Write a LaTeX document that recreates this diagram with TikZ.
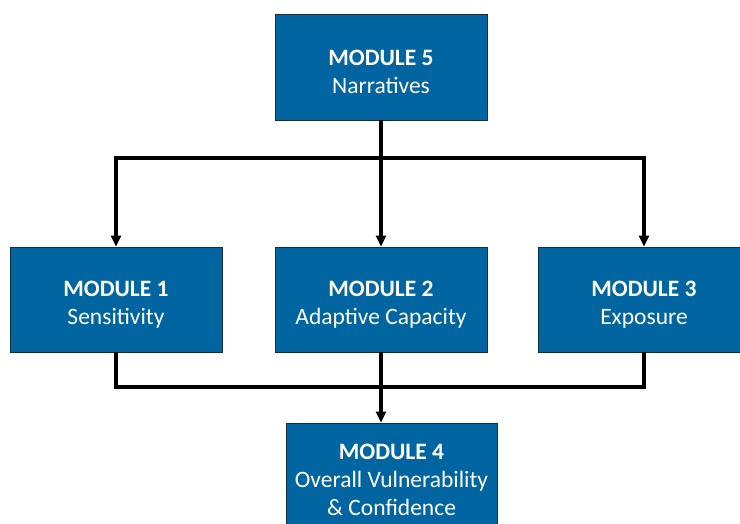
\documentclass[tikz,border=0pt]{standalone}
\usepackage{fontspec}
\setmainfont{Carlito}
\usetikzlibrary{arrows.meta,calc}
\definecolor{boxblue}{RGB}{0,101,160}
\definecolor{boxedge}{RGB}{20,45,65}
\begin{document}
\begin{tikzpicture}[x=1pt,y=-1pt,
  modbox/.style={draw=boxedge,line width=0.9pt,fill=boxblue,
    minimum width=212pt,minimum height=105pt,inner sep=0pt},
  modtext/.style={text=white,align=center,inner sep=0pt,
    font=\fontsize{23.5}{28}\selectfont},
  conn/.style={line width=3.1pt,draw=black},
  arr/.style={conn,-{Triangle[width=10pt,length=11pt]}}]
\clip (0,0) rectangle (740,523);
\fill[white] (0,0) rectangle (740,523);
\node[modbox,minimum height=106pt] (m5) at (381,67) {};
\node[modbox] (m1) at (116,299.5) {};
\node[modbox] (m2) at (381,299.5) {};
\node[modbox] (m3) at (644,299.5) {};
\node[modbox,minimum width=211pt] (m4) at (391.5,475.5) {};
\node[modtext] (m5t) at ($(m5.center)+(0,5)$) {\textbf{MODULE 5}\\Narratives};
\node[modtext] (m1t) at ($(m1.center)+(0,5)$) {\textbf{MODULE 1}\\Sensitivity};
\node[modtext] (m2t) at ($(m2.center)+(0,5)$) {\textbf{MODULE 2}\\Adaptive Capacity};
\node[modtext] (m3t) at ($(m3.center)+(0,5)$) {\textbf{MODULE 3}\\Exposure};
\node[modtext] (m4t) at (391.5,480) {\textbf{MODULE 4}\\Overall Vulnerability\\\& Confidence};
\coordinate (top) at (0,158);
\coordinate (bot) at (0,387);
\draw[arr] (m5.south) -- (m2.north);
\draw[arr] (m5.south |- top) -| (m1.north);
\draw[arr] (m5.south |- top) -| (m3.north);
\draw[conn] (m1.south) -- (m1.south |- bot) -| (m3.south);
\draw[arr] (m2.south) -- (m2.south |- m4.north);
\end{tikzpicture}
\end{document}
